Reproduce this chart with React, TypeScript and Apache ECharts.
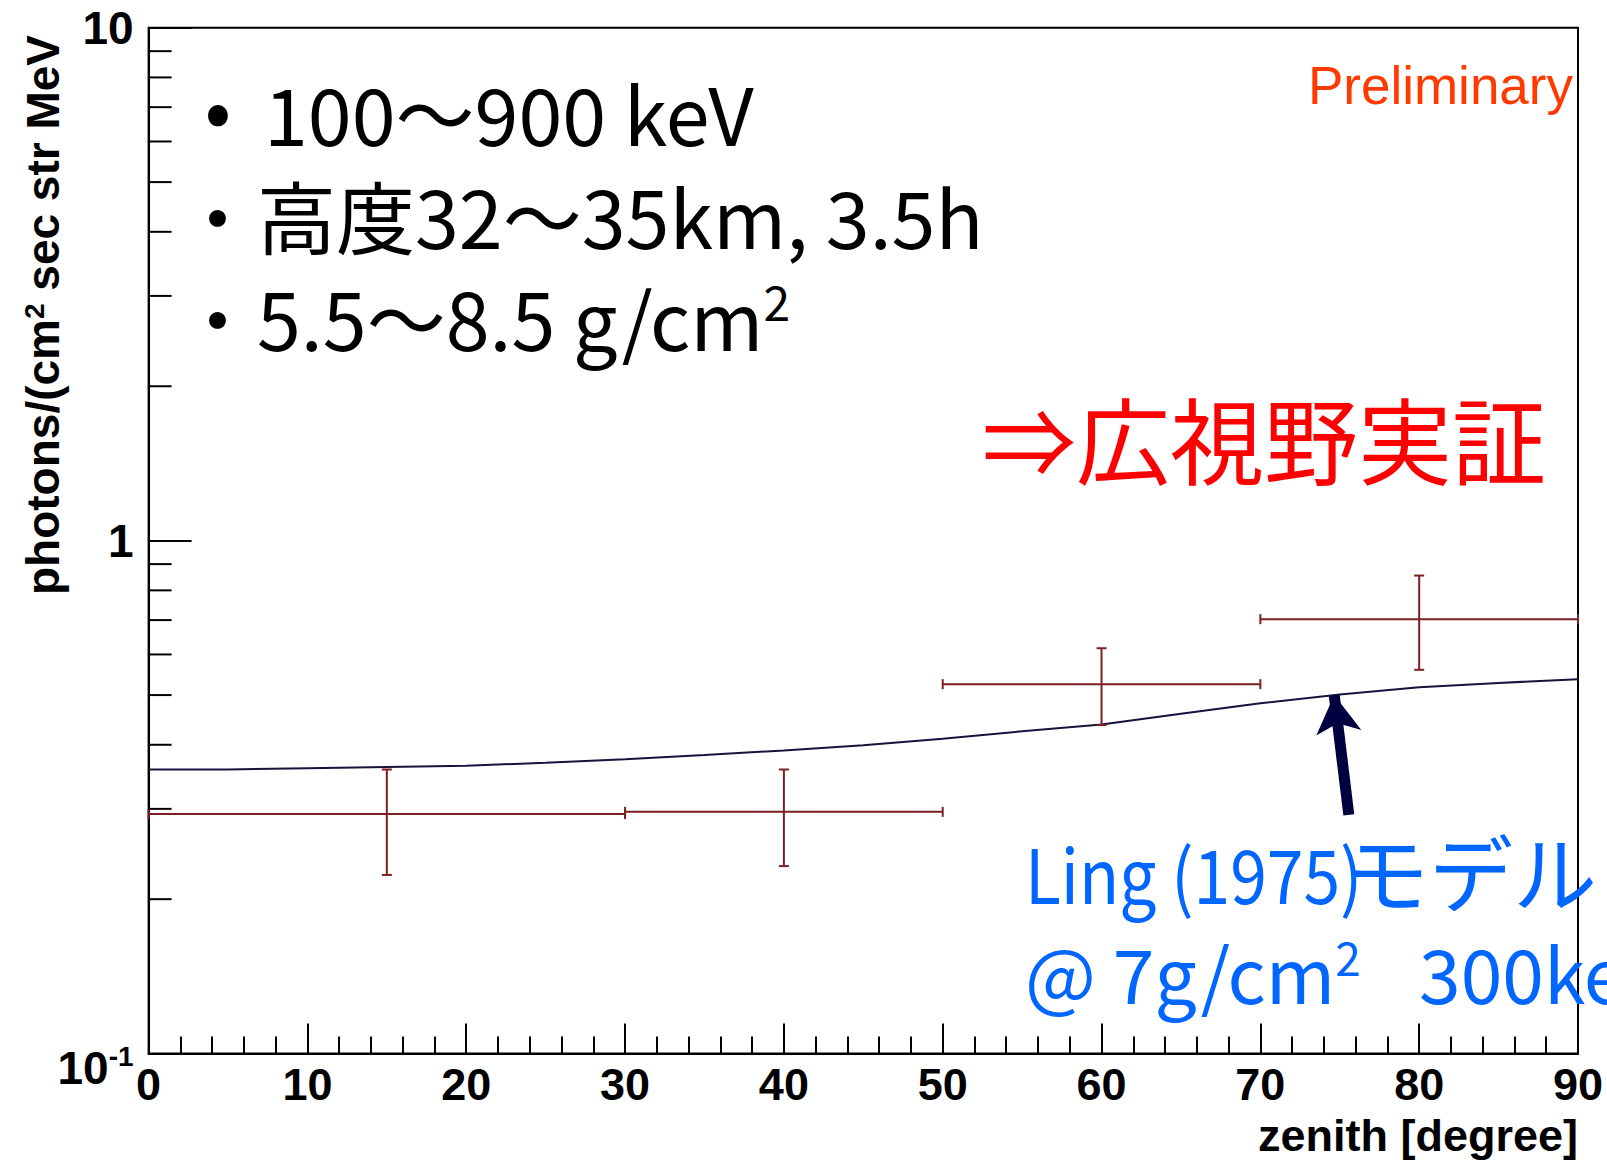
import React, { useEffect, useRef } from 'react';
import * as echarts from 'echarts';

// Measured bins (zenith degree) and flux values
const binLow = [0, 30, 50, 70];
const binHigh = [30, 50, 70, 90];
const binCenter = [15, 40, 60, 80];
const flux = [0.293, 0.296, 0.525, 0.703];
const fluxLow = [0.223, 0.232, 0.437, 0.56];
const fluxHigh = [0.358, 0.358, 0.617, 0.855];

// Ling (1975) model curve
const modelZenith = [0, 5, 10, 15, 20, 25, 30, 35, 40, 45, 50, 55, 60, 65, 70, 75, 80, 85, 90];
const modelFlux = [0.358, 0.358, 0.36, 0.362, 0.364, 0.369, 0.375, 0.382, 0.39, 0.399, 0.411, 0.425, 0.438, 0.46, 0.482, 0.501, 0.518, 0.528, 0.537];

// log-axis minor tick values
const yMinorTicks = [0.2, 0.3, 0.4, 0.5, 0.6, 0.7, 0.8, 0.9, 2, 3, 4, 5, 6, 7, 8, 9];

// arrow annotation (from -> to) in data coords
const arrowFrom = [75.57, 0.292];
const arrowTo = [74.65, 0.5];

const xAxisTitle = 'zenith [degree]';
const yAxisTitle = 'photons/(cm{s|2} sec str MeV';

const W = 1607;
const H = 1161;
const LEFT = 148.6;
const RIGHT = 29;
const TOP = 27.7;
const BOTTOM = 107.4;

const LATIN = '"Liberation Sans", Arial, sans-serif';
const CJK = '"Noto Sans CJK JP", "Noto Sans", sans-serif';

export default function App() {
  const ref = useRef<HTMLDivElement>(null);
  useEffect(() => {
    document.body.style.margin = '0';
    document.body.style.overflow = 'hidden';
    const chart = echarts.init(ref.current!, null, { renderer: 'svg' });
    const errData = binLow.map((l, i) => [l, binHigh[i], binCenter[i], flux[i], fluxLow[i], fluxHigh[i]]);
    const errColor = '#7d1f22';
    const option: any = {
      animation: false,
      backgroundColor: '#ffffff',
      grid: {
        left: LEFT, right: RIGHT, top: TOP, bottom: BOTTOM,
        outerBoundsMode: 'none', containLabel: false,
        show: true, borderColor: '#000', borderWidth: 2, backgroundColor: 'transparent',
      },
      xAxis: {
        type: 'value', min: 0, max: 90, interval: 10,
        axisLine: { show: true, lineStyle: { color: '#000', width: 2 } },
        axisTick: { show: true, inside: true, length: 30, lineStyle: { color: '#000', width: 2 } },
        minorTick: { show: true, splitNumber: 5, length: 17, lineStyle: { color: '#000', width: 2 } },
        splitLine: { show: false },
        axisLabel: {
          fontFamily: LATIN, fontWeight: 'bold', fontSize: 45, color: '#000', margin: 8,
        },
      },
      yAxis: {
        type: 'log', logBase: 10, min: 0.1, max: 10,
        axisLine: { show: true, lineStyle: { color: '#000', width: 2 } },
        axisTick: { show: true, inside: true, length: 43, lineStyle: { color: '#000', width: 2 } },
        splitLine: { show: false },
        axisLabel: {
          margin: 15,
          formatter: (v: number) => {
            if (Math.abs(v - 10) < 1e-6) return '{b|10}';
            if (Math.abs(v - 1) < 1e-6) return '{b|1}';
            return '{d|10}{s|-1}';
          },
          rich: {
            b: { fontFamily: LATIN, fontWeight: 'bold', fontSize: 46, color: '#000' },
            d: { fontFamily: LATIN, fontWeight: 'bold', fontSize: 46, color: '#000', padding: [29, 0, 0, 0] },
            s: { fontFamily: LATIN, fontWeight: 'bold', fontSize: 28, color: '#000', verticalAlign: 'top', padding: [26, 0, 0, 0] },
          },
        },
      },
      series: [
        {
          name: 'Ling (1975)',
          type: 'line',
          data: modelZenith.map((z, i) => [z, modelFlux[i]]),
          symbol: 'none',
          lineStyle: { color: '#14143c', width: 2 },
          z: 3,
          markLine: {
            silent: true,
            label: { show: false },
            lineStyle: { color: '#000040', width: 11, type: 'solid', opacity: 1 },
            symbolSize: [34, 38],
            data: [[
              { coord: arrowFrom, symbol: 'none' },
              { coord: arrowTo, symbol: 'arrow' },
            ]],
          },
        },
        {
          name: 'data',
          type: 'custom',
          data: errData,
          encode: { x: [0, 1, 2], y: [3, 4, 5] },
          z: 4,
          renderItem: (_p: any, api: any) => {
            const xl = api.value(0), xh = api.value(1), xc = api.value(2);
            const yc = api.value(3), yl = api.value(4), yh = api.value(5);
            const pL = api.coord([xl, yc]);
            const pH = api.coord([xh, yc]);
            const pB = api.coord([xc, yl]);
            const pT = api.coord([xc, yh]);
            const c = 5;
            const style = { stroke: errColor, lineWidth: 2 };
            return {
              type: 'group',
              children: [
                { type: 'line', shape: { x1: pL[0], y1: pL[1], x2: pH[0], y2: pH[1] }, style },
                { type: 'line', shape: { x1: pB[0], y1: pB[1], x2: pT[0], y2: pT[1] }, style },
                { type: 'line', shape: { x1: pL[0], y1: pL[1] - c, x2: pL[0], y2: pL[1] + c }, style },
                { type: 'line', shape: { x1: pH[0], y1: pH[1] - c, x2: pH[0], y2: pH[1] + c }, style },
                { type: 'line', shape: { x1: pB[0] - c, y1: pB[1], x2: pB[0] + c, y2: pB[1] }, style },
                { type: 'line', shape: { x1: pT[0] - c, y1: pT[1], x2: pT[0] + c, y2: pT[1] }, style },
              ],
            };
          },
        },
        {
          name: 'minorTicks',
          type: 'custom',
          data: yMinorTicks.map((v) => [0, v]),
          encode: { x: 0, y: 1 },
          silent: true,
          z: 5,
          renderItem: (_p: any, api: any) => {
            const p = api.coord([api.value(0), api.value(1)]);
            return {
              type: 'line',
              shape: { x1: p[0], y1: p[1], x2: p[0] + 23, y2: p[1] },
              style: { stroke: '#000', lineWidth: 2 },
            };
          },
        },
      ],
      graphic: [
        {
          type: 'text', x: 43, y: 315, rotation: Math.PI / 2,
          style: {
            text: yAxisTitle,
            fill: '#000', fontFamily: LATIN, fontWeight: 'bold', fontSize: 46,
            align: 'center', verticalAlign: 'middle',
            rich: { s: { fontFamily: LATIN, fontWeight: 'bold', fontSize: 28, fill: '#000', verticalAlign: 'top' } },
          },
        },
        {
          type: 'text', x: W - RIGHT, y: 1112,
          style: {
            text: xAxisTitle, fill: '#000', fontFamily: LATIN, fontWeight: 'bold', fontSize: 45, lineHeight: 46,
            align: 'right', verticalAlign: 'top',
          },
        },
        {
          type: 'text', x: 218, y: 104,
          style: { text: '•', fill: '#000', fontFamily: CJK, fontSize: 79, lineHeight: 60, align: 'center', verticalAlign: 'middle' },
        },
        {
          type: 'text', x: 264, y: 111,
          style: { text: '100～900 keV', fill: '#000', fontFamily: CJK, fontSize: 79, lineHeight: 80, align: 'left', verticalAlign: 'middle' },
        },
        {
          type: 'text', x: 178, y: 214,
          style: { text: '・高度32～35km, 3.5h', fill: '#000', fontFamily: CJK, fontSize: 79, lineHeight: 80, align: 'left', verticalAlign: 'middle' },
        },
        {
          type: 'text', x: 178, y: 316,
          style: {
            text: '・5.5～8.5 g/cm{s|2}', fill: '#000', fontFamily: CJK, fontSize: 79, lineHeight: 80, align: 'left', verticalAlign: 'middle',
            rich: { s: { fontFamily: CJK, fontSize: 48, lineHeight: 50, fill: '#000', verticalAlign: 'top' } },
          },
        },
        {
          type: 'text', x: 1573, y: 85,
          style: { text: 'Preliminary', fill: '#ff3a00', fontFamily: LATIN, fontSize: 53, align: 'right', verticalAlign: 'middle' },
        },
        {
          type: 'text', x: 982, y: 437,
          style: { text: '⇒広視野実証', fill: '#ff0000', fontFamily: CJK, fontSize: 94, align: 'left', verticalAlign: 'middle' },
        },
        {
          type: 'text', x: 1025, y: 871, scaleX: 0.88,
          style: { text: 'Ling (1975)', fill: '#0066ff', fontFamily: CJK, fontSize: 75, lineHeight: 76, align: 'left', verticalAlign: 'middle' },
        },
        {
          type: 'text', x: 1345, y: 869,
          style: { text: 'モデル', fill: '#0066ff', fontFamily: CJK, fontSize: 84, lineHeight: 80, align: 'left', verticalAlign: 'middle' },
        },
        {
          type: 'text', x: 1025, y: 971,
          style: {
            text: '@ 7g/cm{s|2}', fill: '#0066ff', fontFamily: CJK, fontSize: 75, lineHeight: 76, align: 'left', verticalAlign: 'middle',
            rich: { s: { fontFamily: CJK, fontSize: 46, lineHeight: 48, fill: '#0066ff', verticalAlign: 'top' } },
          },
        },
        {
          type: 'text', x: 1419, y: 971,
          style: { text: '300keV', fill: '#0066ff', fontFamily: CJK, fontSize: 75, lineHeight: 76, align: 'left', verticalAlign: 'middle' },
        },
      ],
    };
    chart.setOption(option);
    return () => chart.dispose();
  }, []);
  return <div ref={ref} style={{ width: W, height: H }} />;
}
